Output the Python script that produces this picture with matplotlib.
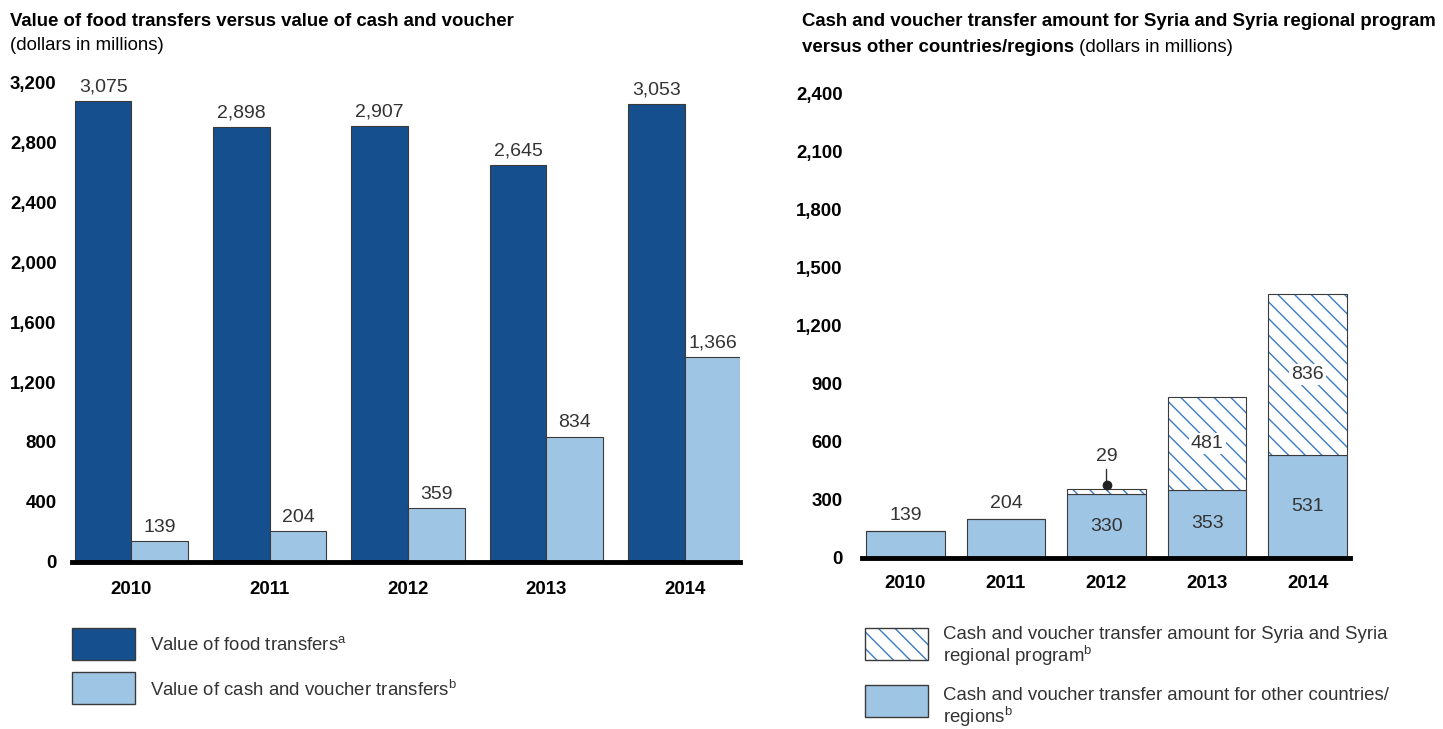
import numpy as np
import matplotlib
matplotlib.use("Agg")
import matplotlib.pyplot as plt
from matplotlib.patches import Rectangle

plt.rcParams['font.family'] = ['Liberation Sans', 'DejaVu Sans']
plt.rcParams['mathtext.fontset'] = 'custom'
plt.rcParams['mathtext.rm'] = 'Liberation Sans'
plt.rcParams['hatch.linewidth'] = 1.0

# data
years = ['2010', '2011', '2012', '2013', '2014']
food = [3075, 2898, 2907, 2645, 3053]
cash = [139, 204, 359, 834, 1366]
other = [139, 204, 330, 353, 531]
syria = [0, 0, 29, 481, 836]
left_ticks = [0, 400, 800, 1200, 1600, 2000, 2400, 2800, 3200]
right_ticks = [0, 300, 600, 900, 1200, 1500, 1800, 2100, 2400]

dark = '#154f8e'
light = '#9fc5e5'
hatch_col = '#3b7dc4'
edge = '#3a3a3a'
txt = '#333333'
fs = 13.4    # general text
fv = 14      # value labels

W, H = 1443, 729
fig = plt.figure(figsize=(W / 100, H / 100), dpi=100)

def px(x0, y0, x1, y1):
    # pixel box (top-left origin) -> figure fraction rect
    return [x0 / W, 1 - y1 / H, (x1 - x0) / W, (y1 - y0) / H]

# ---------------- left chart ----------------
ax1 = fig.add_axes(px(72, 82, 740, 562))
x = np.arange(len(years))
bw = 0.41
b1 = ax1.bar(x - bw / 2, food, bw, color=dark, edgecolor=edge, linewidth=0.8)
b2 = ax1.bar(x + bw / 2, cash, bw, color=light, edgecolor=edge, linewidth=0.8)
for rects, vals in ((b1, food), (b2, cash)):
    for r, v in zip(rects, vals):
        ax1.annotate(f'{v:,}', (r.get_x() + r.get_width() / 2, v),
                     xytext=(0, 4), textcoords='offset points',
                     ha='center', va='bottom', fontsize=fv, color=txt)
ax1.set_xlim(-0.43, 4.40)
ax1.set_ylim(0, 3200)
ax1.set_yticks(left_ticks)
ax1.set_yticklabels([f'{t:,}' for t in left_ticks], fontsize=fs, fontweight='bold')
ax1.set_xticks(x)
ax1.set_xticklabels(years, fontsize=fs, fontweight='bold')
ax1.tick_params(length=0)
ax1.tick_params(axis='y', pad=11)
ax1.tick_params(axis='x', pad=14)
for s in ax1.spines.values():
    s.set_visible(False)
ax1.axhline(0, color='black', lw=3.5, clip_on=False, zorder=5)

fig.text(10 / W, 1 - 22 / H, 'Value of food transfers versus value of cash and voucher',
         fontsize=fs, fontweight='bold', va='center', ha='left')
fig.text(10 / W, 1 - 46 / H, '(dollars in millions)', fontsize=fs, va='center', ha='left')

# left legend
for (y0, col, lab) in ((628, dark, 'Value of food transfers$^{\\rm a}$'),
                       (672, light, 'Value of cash and voucher transfers$^{\\rm b}$')):
    fig.patches.append(Rectangle((72 / W, 1 - (y0 + 32) / H), 63 / W, 32 / H,
                                 transform=fig.transFigure, facecolor=col,
                                 edgecolor=edge, linewidth=1))
    fig.text(150 / W, 1 - (y0 + 18) / H, lab, fontsize=fs, color=txt, va='center')

# ---------------- right chart ----------------
ax2 = fig.add_axes(px(862, 94, 1350, 558))
bw2 = 0.78
ax2.bar(x, other, bw2, color=light, edgecolor=edge, linewidth=0.8, zorder=2)
ax2.bar(x, syria, bw2, bottom=other, color='white', edgecolor=hatch_col,
        hatch='\\\\', linewidth=0, zorder=2)
ax2.bar(x, syria, bw2, bottom=other, fill=False, edgecolor=edge, linewidth=0.8, zorder=3)

for i in range(len(years)):
    if syria[i] == 0:
        ax2.annotate(f'{other[i]:,}', (x[i], other[i]), xytext=(0, 5),
                     textcoords='offset points', ha='center', va='bottom',
                     fontsize=fv, color=txt)
    else:
        ax2.text(x[i], other[i] / 2, f'{other[i]:,}', ha='center', va='center',
                 fontsize=fv, color=txt, zorder=4)
for i in (3, 4):
    ax2.text(x[i], other[i] + syria[i] / 2, f'{syria[i]:,}', ha='center', va='center',
             fontsize=fv, color=txt, zorder=4,
             bbox=dict(facecolor='white', edgecolor='none', pad=1.5))
# small 2012 segment, labelled with a pointer
top12 = other[2] + syria[2]
ax2.annotate(f'{syria[2]}', xy=(x[2], top12 + 18), xytext=(x[2], top12 + 165),
             ha='center', va='center', fontsize=fv, color=txt,
             arrowprops=dict(arrowstyle='-', color=txt, lw=1, shrinkA=1, shrinkB=0))
ax2.plot([x[2]], [top12 + 18], 'o', color='#222222', ms=6, zorder=5)

ax2.set_xlim(-0.43, 4.42)
ax2.set_ylim(0, 2400)
ax2.set_yticks(right_ticks)
ax2.set_yticklabels([f'{t:,}' for t in right_ticks], fontsize=fs, fontweight='bold')
ax2.set_xticks(x)
ax2.set_xticklabels(years, fontsize=fs, fontweight='bold')
ax2.tick_params(length=0)
ax2.tick_params(axis='y', pad=14)
ax2.tick_params(axis='x', pad=12)
for s in ax2.spines.values():
    s.set_visible(False)
ax2.axhline(0, color='black', lw=3.5, clip_on=False, zorder=5)

fig.text(802 / W, 1 - 22 / H,
         'Cash and voucher transfer amount for Syria and Syria regional program',
         fontsize=fs, fontweight='bold', va='center', ha='left')
t2 = fig.text(802 / W, 1 - 47 / H, 'versus other countries/regions',
              fontsize=fs, fontweight='bold', va='center', ha='left')
ax2.annotate(' (dollars in millions)', xy=(1, 0), xycoords=t2, fontsize=fs,
             va='bottom', ha='left', annotation_clip=False)

# right legend
fig.patches.append(Rectangle((865 / W, 1 - 660 / H), 63 / W, 32 / H,
                             transform=fig.transFigure, facecolor='white',
                             edgecolor=hatch_col, hatch='\\\\', linewidth=0))
fig.patches.append(Rectangle((865 / W, 1 - 660 / H), 63 / W, 32 / H,
                             transform=fig.transFigure, fill=False,
                             edgecolor=edge, linewidth=1))
fig.text(943 / W, 1 - 647 / H,
         'Cash and voucher transfer amount for Syria and Syria\nregional program$^{\\rm b}$',
         fontsize=fs, color=txt, va='center', linespacing=1.05)
fig.patches.append(Rectangle((865 / W, 1 - 717 / H), 63 / W, 32 / H,
                             transform=fig.transFigure, facecolor=light,
                             edgecolor=edge, linewidth=1))
fig.text(943 / W, 1 - 708 / H,
         'Cash and voucher transfer amount for other countries/\nregions$^{\\rm b}$',
         fontsize=fs, color=txt, va='center', linespacing=1.05)

fig.savefig('out.png', dpi=100)
